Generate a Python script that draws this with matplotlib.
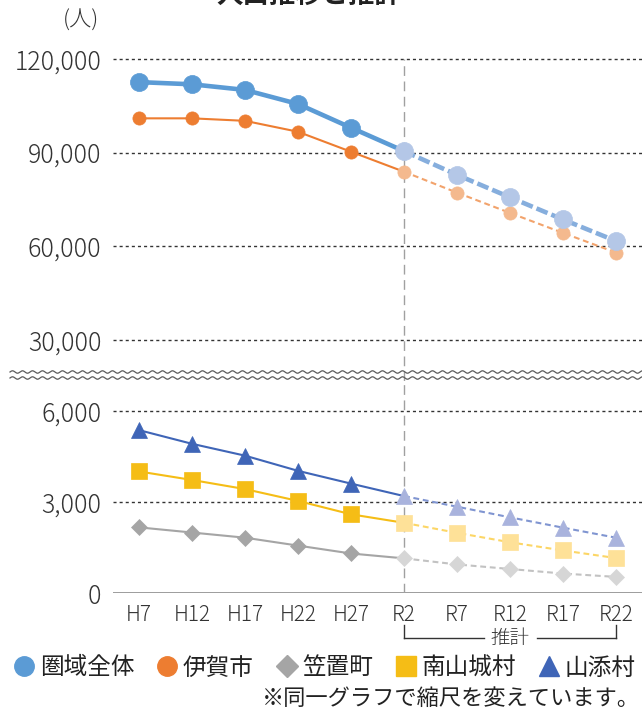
import numpy as np
import matplotlib
matplotlib.use("Agg")
import matplotlib.pyplot as plt
from matplotlib.lines import Line2D
from matplotlib.transforms import blended_transform_factory

plt.rcParams['font.family'] = ['Noto Sans CJK JP', 'DejaVu Sans']

# ---------------- data ----------------
categories = ["H7", "H12", "H17", "H22", "H27", "R2", "R7", "R12", "R17", "R22"]
n_actual = 6  # H7..R2 are actual, R2..R22 are projection (推計)

total = [112600, 111900, 110100, 105600, 98000, 90500, 82900, 75700, 68600, 61700]   # 圏域全体
iga = [101000, 101000, 100200, 96700, 90300, 83900, 77200, 70700, 64300, 58000]      # 伊賀市
kasagi = [2170, 2000, 1830, 1570, 1310, 1150, 950, 800, 650, 540]                     # 笠置町
minamiyamashiro = [4010, 3730, 3430, 3040, 2600, 2320, 1990, 1680, 1410, 1160]        # 南山城村
yamazoe = [5370, 4920, 4530, 4030, 3610, 3200, 2850, 2500, 2160, 1830]                # 山添村

series_names = ["圏域全体", "伊賀市", "笠置町", "南山城村", "山添村"]
top_ticks = [30000, 60000, 90000, 120000]
bot_ticks = [0, 3000, 6000]

# ---------------- layout ----------------
W, H = 642, 713
fig = plt.figure(figsize=(W / 100, H / 100), dpi=100)

def fx(px):
    return px / W

def fy(py):
    return 1 - py / H

left_px, right_px = 112.5, 642.5
ax_top = fig.add_axes([fx(left_px), fy(380.6), fx(right_px - left_px), fy(43.4) - fy(380.6)])
ax_bot = fig.add_axes([fx(left_px), fy(593.3), fx(right_px - left_px), fy(380.6) - fy(593.3)])

x = np.arange(len(categories))
xa = x[:n_actual]
xp = x[n_actual - 1:]

styles = {
    "圏域全体": dict(c="#5B9BD5", cl="#B4C7E7", cd="#86AEDD", m="o", ms=13, lw=3.3, dash=(2.6, 0.9), z=6),
    "伊賀市": dict(c="#ED7D31", cl="#F4B98E", cd="#F2A36C", m="o", ms=9.5, lw=1.5, dash=(2.8, 1.8), z=5),
    "笠置町": dict(c="#A5A5A5", cl="#D6D6D6", cd="#C2C2C2", m="D", ms=8, lw=1.5, dash=(2.8, 1.8), z=4),
    "南山城村": dict(c="#F5BD16", cl="#FEE198", cd="#FCD666", m="s", ms=11, lw=1.5, dash=(2.8, 1.8), z=4),
    "山添村": dict(c="#3F65B7", cl="#A9B3DD", cd="#8095D1", m="^", ms=11, lw=1.5, dash=(2.8, 1.8), z=4),
}

def draw(ax, name, vals):
    s = styles[name]
    v = np.array(vals, dtype=float)
    ax.plot(xa, v[:n_actual], color=s["c"], lw=s["lw"], zorder=s["z"], solid_capstyle="round")
    ax.plot(xp, v[n_actual - 1:], color=s["cd"], lw=s["lw"], dashes=s["dash"], zorder=s["z"])
    ax.plot(xa[:-1], v[:n_actual - 1], ls="none", marker=s["m"], ms=s["ms"],
            mfc=s["c"], mec=s["c"], mew=0.5, zorder=s["z"] + 0.5)
    ax.plot(xp, v[n_actual - 1:], ls="none", marker=s["m"], ms=s["ms"],
            mfc=s["cl"], mec=s["cl"], mew=0.5, zorder=s["z"] + 0.5)

draw(ax_top, "伊賀市", iga)
draw(ax_top, "圏域全体", total)
draw(ax_bot, "笠置町", kasagi)
draw(ax_bot, "南山城村", minamiyamashiro)
draw(ax_bot, "山添村", yamazoe)

tick_color = "#333333"
for ax in (ax_top, ax_bot):
    ax.set_xlim(-0.5, 9.5)
    for sp in ax.spines.values():
        sp.set_visible(False)
    ax.tick_params(axis="y", length=0, pad=8, labelsize=18, labelcolor=tick_color)
    ax.set_facecolor("none")

ax_top.set_ylim(17000, 125000)
ax_top.set_yticks(top_ticks)
ax_top.set_yticklabels([f"{t:,}" for t in top_ticks], fontweight="light")
ax_top.set_xticks([])
for t in top_ticks:
    ax_top.axhline(t, color="#333333", lw=1.0, dashes=(2.2, 2.2), zorder=1)
ax_top.vlines(5, 17000, 120000, color="#A0A0A0", lw=1.0, linestyles=(0, (7, 4)), zorder=2)

ax_bot.set_ylim(0, 7000)
ax_bot.set_yticks(bot_ticks)
ax_bot.set_yticklabels([f"{t:,}" for t in bot_ticks], fontweight="light")
ax_bot.set_xticks(x)
ax_bot.set_xticklabels(categories, fontweight="light")
ax_bot.tick_params(axis="x", length=0, pad=8, labelsize=15, labelcolor=tick_color)
for t in bot_ticks[1:]:
    ax_bot.axhline(t, color="#333333", lw=1.0, dashes=(2.2, 2.2), zorder=1)
ax_bot.axhline(0, color="#8C8C8C", lw=1.2, zorder=1)
ax_bot.axvline(5, color="#A0A0A0", lw=1.0, linestyle=(0, (7, 4)), zorder=2)

# wavy break lines
wx = np.linspace(fx(10), 1.0, 800)
for yc in (372.0, 378.0):
    wy = fy(yc) + np.sin((wx * W - 10) / 10.0 * 2 * np.pi) * (1.2 / H)
    fig.add_artist(Line2D(wx, wy, color="#5A5A5A", lw=0.9, transform=fig.transFigure))

# unit label and title
fig.text(fx(81), fy(21), "(人)", ha="center", va="center", fontsize=16, color=tick_color,
         fontweight="light")
fig.text(fx(309), fy(9), "人口推移と推計", ha="center", va="bottom", fontsize=19,
         fontweight="bold", color="#222222")

# 推計 bracket
tr = blended_transform_factory(ax_bot.transData, fig.transFigure)
by, bt = fy(638), fy(625)
for seg in ((5, 6.5), (7.5, 9)):
    fig.add_artist(Line2D([seg[0], seg[1]], [by, by], color="#333333", lw=1.0, transform=tr, clip_on=False))
fig.add_artist(Line2D([5, 5], [by, bt], color="#333333", lw=1.0, transform=tr, clip_on=False))
fig.add_artist(Line2D([9, 9], [by, bt], color="#333333", lw=1.0, transform=tr, clip_on=False))
fig.text(7, by, "推計", transform=tr, ha="center", va="center", fontsize=14, color=tick_color,
         fontweight="light")

# legend
handles = []
leg_ms = {"圏域全体": 14, "伊賀市": 14, "笠置町": 11, "南山城村": 14, "山添村": 14}
for name in series_names:
    s = styles[name]
    handles.append(Line2D([], [], ls="none", marker=s["m"], ms=leg_ms[name], mfc=s["c"], mec=s["c"]))
fig.legend(handles, series_names, loc="center", bbox_to_anchor=(fx(325), fy(668)), ncol=5,
           frameon=False, fontsize=17, handlelength=0.8, handletextpad=0.25,
           columnspacing=1.0, labelcolor="#222222")

fig.text(fx(640), fy(698), "※同一グラフで縮尺を変えています。", ha="right", va="center",
         fontsize=16, color="#222222")

fig.savefig("out.png", dpi=100)
